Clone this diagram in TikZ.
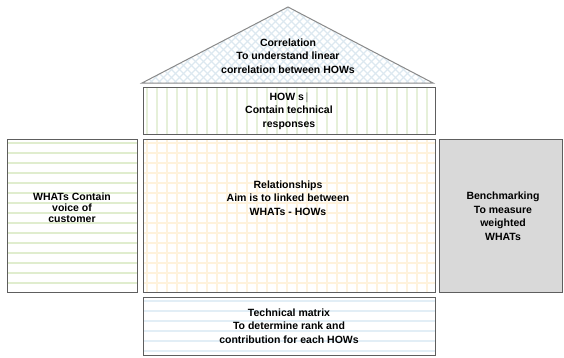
\documentclass[tikz,border=0pt]{standalone}
\usepackage{fontspec}
\setmainfont{Liberation Sans}
\definecolor{boxline}{HTML}{5E5E5E}
\definecolor{roofline}{HTML}{8A8A8A}
\definecolor{roofhatch}{HTML}{DCE8F0}
\definecolor{howline}{HTML}{E6F0D9}
\definecolor{whatline}{HTML}{E0EDCE}
\definecolor{relline}{HTML}{FEF2DC}
\definecolor{techline}{HTML}{E2EEF6}
\definecolor{benchfill}{HTML}{D9D9D9}

\begin{document}
\begin{tikzpicture}[x=1pt, y=-1pt,
  box/.style={draw=boxline, line width=0.8pt, rectangle, inner sep=0pt},
  txt/.style={align=center, inner sep=0pt, font=\fontsize{10.5}{13.5}\selectfont\bfseries},
  hlines/.style={path picture={
    \foreach \k in {0,...,40}
      \draw[draw=#1, line width=1.2pt] ([yshift=-\k*10pt-4pt]path picture bounding box.north west) -- ++(600pt,0pt);}},
  vlines/.style={path picture={
    \foreach \k in {0,...,60}
      \draw[draw=#1, line width=1.2pt] ([xshift=\k*10pt+4pt]path picture bounding box.north west) -- ++(0pt,-400pt);}},
  grid lines/.style={path picture={
    \foreach \k in {0,...,60}
      \draw[draw=#1, line width=1.2pt] ([xshift=\k*10pt+4pt]path picture bounding box.north west) -- ++(0pt,-400pt);
    \foreach \k in {0,...,40}
      \draw[draw=#1, line width=1.2pt] ([yshift=-\k*10pt-4pt]path picture bounding box.north west) -- ++(600pt,0pt);}},
  cross lines/.style={path picture={
    \foreach \k in {-12,...,48} {
      \draw[draw=#1, line width=1.2pt] ([xshift=\k*8pt]path picture bounding box.south west) -- ++(120pt,120pt);
      \draw[draw=#1, line width=1.2pt] ([xshift=-\k*8pt]path picture bounding box.south east) -- ++(-120pt,120pt);
    }}}
]
\useasboundingbox (0,0) rectangle (564,357);

% roof
\draw[draw=roofline, line width=1pt, cross lines=roofhatch]
  (142,83) -- (288,7) -- (433,83) -- cycle;
\node[txt] (corr) at (288,56) {Correlation\\ To understand linear\\ correlation between HOWs};

% boxes
\node[box, vlines=howline, minimum width=292pt, minimum height=47pt] (hows) at (289,111) {};
\node[box, hlines=whatline, minimum width=130pt, minimum height=153pt] (whats) at (72,215.5) {};
\node[box, grid lines=relline, minimum width=292pt, minimum height=153pt] (rel) at (289,215.5) {};
\node[box, fill=benchfill, minimum width=123pt, minimum height=153pt] (bench) at (501,215.5) {};
\node[box, hlines=techline, minimum width=292pt, minimum height=58pt] (tech) at (289,326) {};

% texts
\node[txt] (howstext) at (hows) {HOW s\,\textcolor{gray}{\mdseries|}\\ Contain technical\\ responses};
\node[txt, font=\fontsize{10.5}{11}\selectfont\bfseries] (whatstext) at (72,208) {WHATs Contain\\ voice of\\ customer};
\node[txt] (reltext) at (288,198) {Relationships\\ Aim is to linked between\\ WHATs - HOWs};
\node[txt] (benchtext) at (503,216) {Benchmarking\\ To measure\\ weighted\\ WHATs};
\node[txt] (techtext) at (tech) {Technical matrix\\ To determine rank and\\ contribution for each HOWs};

\end{tikzpicture}
\end{document}
